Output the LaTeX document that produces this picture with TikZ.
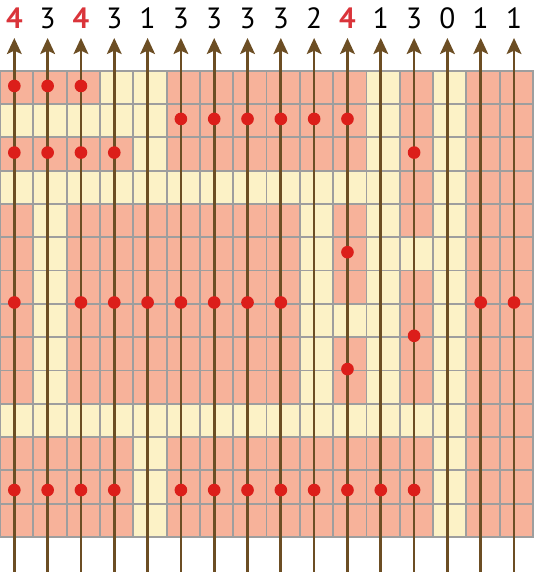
\documentclass[tikz,border=0pt]{standalone}
\usepackage{fontspec}
\setmainfont{PT Sans}
\usepackage{tikz}
\usetikzlibrary{arrows.meta}
\definecolor{gpink}{RGB}{247,178,154}
\definecolor{gcream}{RGB}{252,242,198}
\definecolor{gline}{RGB}{158,158,158}
\definecolor{raybrown}{RGB}{108,78,36}
\definecolor{hitred}{RGB}{220,30,26}
\definecolor{cntred}{RGB}{218,52,58}

\begin{document}
\begin{tikzpicture}[
    cnt/.style={font=\fontsize{25}{30}\selectfont, text=black, inner sep=0pt},
    cntmax/.style={font=\fontsize{25}{30}\selectfont\bfseries, text=cntred, inner sep=0pt},
    ray/.style={-{Stealth[length=4.8mm, width=4.4mm, inset=1mm]}, line width=2.3pt, raybrown},
    hit/.style={circle, fill=hitred, inner sep=0pt, minimum size=3.8mm}
]
    \useasboundingbox (0,-1.05) rectangle (16.03,16.12);

    % cells: cream ground, pink cells row by row (row 1 on top)
    \fill[gcream] (0,0) rectangle (16,14);
    \foreach \r/\cols in {
        1/{1,2,3,6,7,8,9,10,11,13,15,16},
        2/{6,7,8,9,10,11,13,15,16},
        3/{1,2,3,4,6,7,8,9,10,11,13,15,16},
        4/{13,15,16},
        5/{1,3,4,5,6,7,8,9,11,13,15,16},
        6/{1,3,4,5,6,7,8,9,11,15,16},
        7/{1,3,4,5,6,7,8,9,11,13,15,16},
        8/{1,3,4,5,6,7,8,9,13,15,16},
        9/{1,3,4,5,6,7,8,9,11,13,15,16},
        10/{1,3,4,5,6,7,8,9,11,13,15,16},
        11/{15,16},
        12/{1,2,3,4,6,7,8,9,10,11,12,13,15,16},
        13/{1,2,3,4,6,7,8,9,10,11,12,13,15,16},
        14/{1,2,3,4,6,7,8,9,10,11,12,13,15,16}}
        \foreach \c in \cols
            \fill[gpink] (\c-1,14-\r) rectangle (\c,15-\r);
    \draw[gline, line width=1.6pt] (0,0) grid (16,14);
    \draw[gline, line width=1.6pt] (0,0) rectangle (16,14);

    % rays and counts
    \foreach \c/\n/\s in {1/4/cntmax, 2/3/cnt, 3/4/cntmax, 4/3/cnt, 5/1/cnt, 6/3/cnt,
        7/3/cnt, 8/3/cnt, 9/3/cnt, 10/2/cnt, 11/4/cntmax, 12/1/cnt, 13/3/cnt,
        14/0/cnt, 15/1/cnt, 16/1/cnt} {
        \coordinate (bot\c) at (\c-0.57,-1.05);
        \coordinate (top\c) at (\c-0.57,14.98);
        \node[\s] (n\c) at (\c-0.57,15.58) {\n};
        \draw[ray] (bot\c) -- (top\c);
    }

    % hits
    \foreach \c/\y in {1/13.54, 1/11.54, 1/7.04, 1/1.41,
        2/13.54, 2/11.54, 2/1.41,
        3/13.54, 3/11.54, 3/7.04, 3/1.41,
        4/11.54, 4/7.04, 4/1.41,
        5/7.04,
        6/12.55, 6/7.04, 6/1.41,
        7/12.55, 7/7.04, 7/1.41,
        8/12.55, 8/7.04, 8/1.41,
        9/12.55, 9/7.04, 9/1.41,
        10/12.55, 10/1.41,
        11/12.55, 11/8.55, 11/5.04, 11/1.41,
        12/1.41,
        13/11.54, 13/6.04, 13/1.41,
        15/7.04,
        16/7.04}
        \node[hit] at (\c-0.57,\y) {};
\end{tikzpicture}
\end{document}
